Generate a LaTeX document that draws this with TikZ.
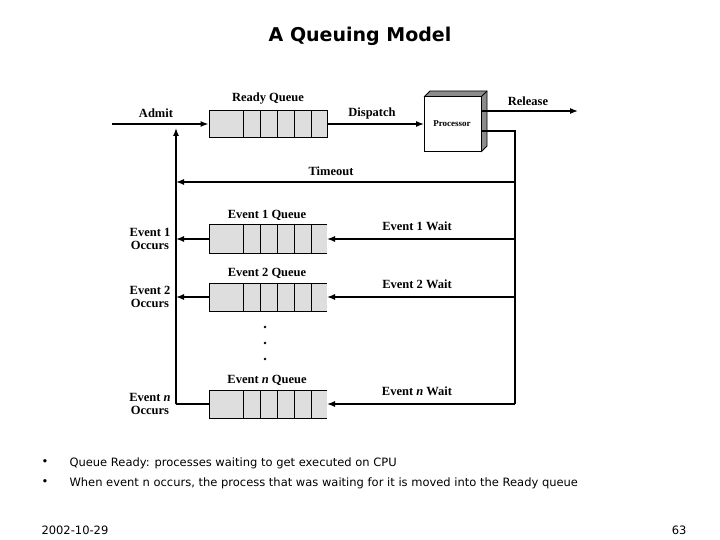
\documentclass[tikz,border=0pt]{standalone}
\usepackage{fontspec}
\setmainfont{DejaVu Sans}
\newfontfamily\dg{Liberation Serif}
\usetikzlibrary{arrows.meta}
\begin{document}
\begin{tikzpicture}[x=1pt,y=-1pt,
  lbl/.style={font=\dg\bfseries\fontsize{12.5}{13}\selectfont,inner sep=0pt,align=center},
  ln/.style={line width=1.3pt},
  ar/.style={ln,-{Latex[length=8pt,width=6pt]}},
  tx/.style={font=\fontsize{11.5}{13}\selectfont,anchor=west}]
\useasboundingbox (0,0) rectangle (720,540);
\node[font=\bfseries\fontsize{19}{22}\selectfont] (title) at (360,36) {A Queuing Model};
% ready queue
\node[fill=black!13,draw,line width=1pt,minimum width=118pt,minimum height=27pt,inner sep=0pt] (rq) at (268,124) {};
\foreach \x in {243,260,277,294,311} \draw[line width=0.7pt] (\x,111) -- (\x,137);
\node[lbl] (rql) at (268,99) {Ready Queue};
% processor
\fill[black!45] (424,97) -- (430,91) -- (487,91) -- (487,146) -- (481,152) -- (481,97) -- cycle;
\draw[line width=0.8pt] (424,97) -- (430,91) -- (487,91) -- (487,146) -- (481,152);
\draw[line width=0.8pt] (481,97) -- (487,91);
\node[draw,line width=1pt,fill=white,minimum width=57pt,minimum height=55pt,inner sep=0pt] (proc) at (452.5,124.5) {};
\node[lbl,font=\dg\bfseries\fontsize{9}{10}\selectfont] (procl) at (452,124) {Processor};
\coordinate (ain) at (112,124);
\coordinate (vtop) at (176,124);
\coordinate (vbot) at (176,404);
\coordinate (rel0) at (481,111);
\coordinate (rel1) at (578,111);
\coordinate (p2) at (481,131);
\coordinate (rc) at (515,131);
\coordinate (rb) at (515,404);
\draw[ln] (ain) -- (vtop);
\draw[ar] (vtop) -- (rq.west);
\node[lbl] (admit) at (156,113) {Admit};
\draw[ar] (rq.east) -- (424,124);
\node[lbl] (disp) at (372,113) {Dispatch};
\draw[ar] (rel0) -- (rel1);
\node[lbl] (rell) at (528,101) {Release};
\draw[ln] (p2) -- (rc) -- (rb);
\draw[ar] (vbot) -- (176,128);
\coordinate (to) at (515,182);
\draw[ar] (to) -- (176,182);
\node[lbl] (tol) at (331,171) {Timeout};
% event queues
\foreach \n/\y/\t in {e1/239/1,e2/297/2,en/404/{{\itshape n}}}{
  \fill[black!13] (209,\y-14) rectangle (327,\y+14);
  \draw[line width=1pt] (327,\y-14) -- (209,\y-14) -- (209,\y+14) -- (327,\y+14);
  \foreach \x in {243,260,277,294,311} \draw[line width=0.7pt] (\x,\y-14) -- (\x,\y+14);
  \coordinate (\n r) at (327,\y);
  \coordinate (\n l) at (209,\y);
  \coordinate (\n s) at (515,\y);
  \node[lbl] (\n ql) at (267,\y-24) {Event \t\ Queue};
  \node[lbl] (\n wl) at (417,\y-13) {Event \t\ Wait};
  \node[lbl] (\n ol) at (150,\y) {Event \t\\Occurs};
}
\draw[ar] (e1s) -- (e1r);
\draw[ar] (e2s) -- (e2r);
\draw[ar] (ens) -- (enr);
\draw[ar] (e1l) -- (176,239);
\draw[ar] (e2l) -- (176,297);
\draw[ln] (enl) -- (vbot);
\foreach \yy in {327,343,359} \fill (265,\yy) circle (1.3pt);
% text
\node[tx] (b1) at (38,463) {•};
\node[tx] (t1) at (66,463) {Queue Ready: processes waiting to get executed on CPU};
\node[tx] (b2) at (38,483) {•};
\node[tx] (t2) at (66,483) {When event n occurs, the process that was waiting for it is moved into the Ready queue};
\node[tx] (date) at (38,530) {2002-10-29};
\node[tx,anchor=east] (pg) at (690,530) {63};
\end{tikzpicture}
\end{document}
